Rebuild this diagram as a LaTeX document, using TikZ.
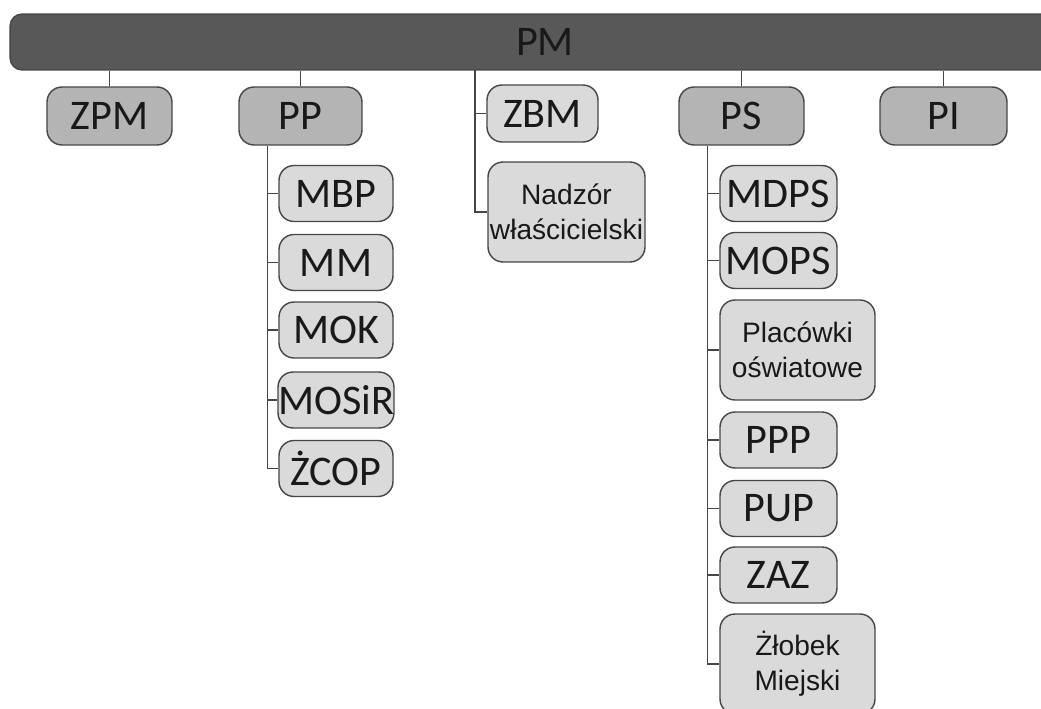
\documentclass[tikz,border=0pt]{standalone}
\usepackage{fontspec}
\setmainfont{Carlito}
\newfontfamily\arialfont{Liberation Sans}
\usepackage{tikz}
\usetikzlibrary{shapes,positioning,calc}
\usepackage{xcolor}
\definecolor{bardark}{RGB}{88,88,88}
\definecolor{midgray}{RGB}{180,180,180}
\definecolor{lightgray}{RGB}{218,218,218}
\definecolor{edgegray}{RGB}{70,70,70}

\begin{document}
\begin{tikzpicture}[x=0.02cm,y=-0.02cm,
    box/.style={draw=edgegray,line width=0.8pt,rounded corners=0.3cm,inner sep=0pt,
        text=black!90,font=\fontsize{24}{28}\selectfont,align=center},
    headbox/.style={box,fill=midgray,minimum height=1.16cm},
    unitbox/.style={box,fill=lightgray,minimum width=2.3cm,minimum height=1.12cm},
    wideunit/.style={box,fill=lightgray,minimum width=3.1cm,minimum height=2cm,
        font=\arialfont\fontsize{16}{20}\selectfont},
    link/.style={draw=edgegray,line width=0.8pt}]
            \useasboundingbox (0,0) rectangle (1041,709);
            % top bar
            \node[box,fill=bardark,rounded corners=0.24cm,minimum width=21.4cm,minimum height=1.12cm] (pm) at (545,42) {PM};

            % first level
            \node[headbox,minimum width=2.5cm] (zpm) at (109.5,116) {ZPM};
            \node[headbox,minimum width=2.46cm] (pp) at (300.5,116) {PP};
            \node[unitbox,minimum width=2.22cm,minimum height=1.14cm] (zbm) at (542.5,113.5) {ZBM};
            \node[wideunit,minimum width=3.14cm] (nadzor) at (566.5,212) {Nadzór\\właścicielski};
            \node[headbox,minimum width=2.5cm] (ps) at (741.5,116) {PS};
            \node[headbox,minimum width=2.54cm] (pi) at (943.5,116) {PI};

            \foreach \n in {zpm,pp,ps,pi}
                \draw[link] (\n.north) -- (\n.north |- pm.south);

            \coordinate (zbmtrunk) at (475,70);
            \draw[link] (zbmtrunk) |- (nadzor.west);
            \draw[link] (zbmtrunk |- zbm.west) -- (zbm.west);

            % PP units
            \node[unitbox,minimum width=2.28cm] (mbp) at (336,193.5) {MBP};
            \node[unitbox,minimum width=2.28cm] (mm) at (336,262.5) {MM};
            \node[unitbox,minimum width=2.28cm] (mok) at (336,330) {MOK};
            \node[unitbox,minimum width=2.28cm] (mosir) at (336,400) {MOSiR};
            \node[unitbox,minimum width=2.28cm] (zcop) at (336,468.5) {ŻCOP};

            \coordinate (pptrunk) at ([xshift=0.58cm]pp.south west);
            \draw[link] (pptrunk) |- (zcop.west);
            \foreach \n in {mbp,mm,mok,mosir}
                \draw[link] (pptrunk |- \n.west) -- (\n.west);

            % PS units
            \node[unitbox,minimum width=2.34cm] (mdps) at (778.5,193.5) {MDPS};
            \node[unitbox,minimum width=2.34cm] (mops) at (778.5,260.5) {MOPS};
            \node[wideunit] (placowki) at (797.5,350) {Placówki\\oświatowe};
            \node[unitbox,minimum width=2.34cm] (ppp) at (778.5,440) {PPP};
            \node[unitbox,minimum width=2.34cm] (pup) at (778.5,508.5) {PUP};
            \node[unitbox,minimum width=2.34cm] (zaz) at (778.5,575) {ZAZ};
            \node[wideunit] (zlobek) at (797.5,664) {Żłobek\\Miejski};

            \coordinate (pstrunk) at ([xshift=0.58cm]ps.south west);
            \draw[link] (pstrunk) |- (zlobek.west);
            \foreach \n in {mdps,mops,placowki,ppp,pup,zaz}
                \draw[link] (pstrunk |- \n.west) -- (\n.west);
\end{tikzpicture}
\end{document}
